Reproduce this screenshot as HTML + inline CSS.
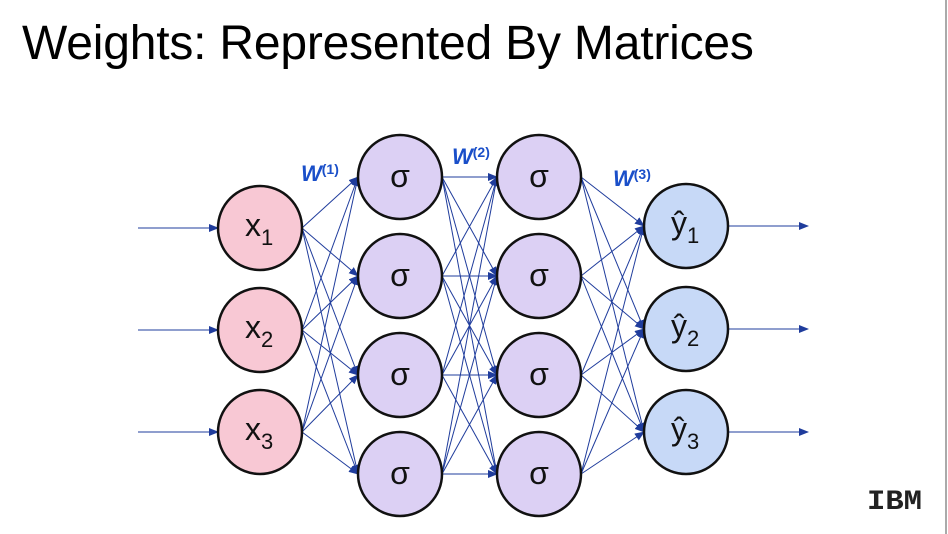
<!DOCTYPE html>
<html><head><meta charset="utf-8"><style>
body{margin:0;width:948px;height:534px;background:#fff;overflow:hidden;position:relative;font-family:"Liberation Sans",sans-serif}
.t{position:absolute;left:22px;top:16px;font-size:48px;color:#000;white-space:nowrap;letter-spacing:-0.2px}
</style></head><body>
<div class="t">Weights: Represented By Matrices</div>
<div style="position:absolute;left:945px;top:0;width:2px;height:534px;background:#aaa"></div>
<svg width="948" height="534" style="position:absolute;left:0;top:0" id="s">
<defs><marker id="a" markerWidth="10" markerHeight="8" refX="9" refY="4" orient="auto" markerUnits="userSpaceOnUse"><path d="M0,0 L10,4 L0,8 z" fill="#1f3c9c"/></marker></defs>
<g id="lines" stroke="#1f3c9c" stroke-width="1" fill="none"></g>
<g id="nodes" stroke="#111" stroke-width="2.5"></g>
<g font-family="Liberation Sans,sans-serif" font-weight="bold" font-style="italic" fill="#1a4fc9">
<text x="301" y="181" font-size="22">W<tspan font-size="14" dy="-7" font-style="normal">(1)</tspan></text>
<text x="452" y="164" font-size="22">W<tspan font-size="14" dy="-7" font-style="normal">(2)</tspan></text>
<text x="613" y="186" font-size="22">W<tspan font-size="14" dy="-7" font-style="normal">(3)</tspan></text>
</g>
<g font-family="Liberation Mono,monospace" font-weight="bold" font-size="28" fill="#222">
<text x="867" y="509" textLength="55" lengthAdjust="spacingAndGlyphs">IBM</text>
</g>
</svg>
<script>
var R=42,ns="http://www.w3.org/2000/svg";
var L=[[260,[228,330,432],'#f8c8d4'],
[400,[177,276,375,474],'#dcd0f4'],
[539,[177,276,375,474],'#dcd0f4'],
[686,[226,329,432],'#c7d9f7']];
var lg=document.getElementById('lines'),ng=document.getElementById('nodes');
function ln(x1,y1,x2,y2){var l=document.createElementNS(ns,'line');l.setAttribute('x1',x1);l.setAttribute('y1',y1);l.setAttribute('x2',x2);l.setAttribute('y2',y2);l.setAttribute('marker-end','url(#a)');lg.appendChild(l);}
L[0][1].forEach(function(y){ln(138,y,L[0][0]-R,y)});
L[3][1].forEach(function(y){ln(L[3][0]+R,y,808,y)});
for(var i=0;i<3;i++)L[i][1].forEach(function(y1){L[i+1][1].forEach(function(y2){ln(L[i][0]+R,y1,L[i+1][0]-R,y2)})});
L.forEach(function(l,li){l[1].forEach(function(y,k){var c=document.createElementNS(ns,'circle');c.setAttribute('cx',l[0]);c.setAttribute('cy',y);c.setAttribute('r',R);c.setAttribute('fill',l[2]);ng.appendChild(c);
var t=document.createElementNS(ns,'text');t.setAttribute('fill','#111');t.setAttribute('stroke','none');t.setAttribute('font-family','Liberation Sans,sans-serif');t.setAttribute('font-size','32');
if(li==1||li==2){t.setAttribute('x',l[0]);t.setAttribute('y',y+10);t.setAttribute('text-anchor','middle');t.textContent='σ';}
else{t.setAttribute('x',l[0]-15);t.setAttribute('y',y+8);t.innerHTML=(li==0?'x':'ŷ')+'<tspan font-size="22" dy="9">'+(k+1)+'</tspan>';}
ng.appendChild(t);});});
</script>
</body></html>
